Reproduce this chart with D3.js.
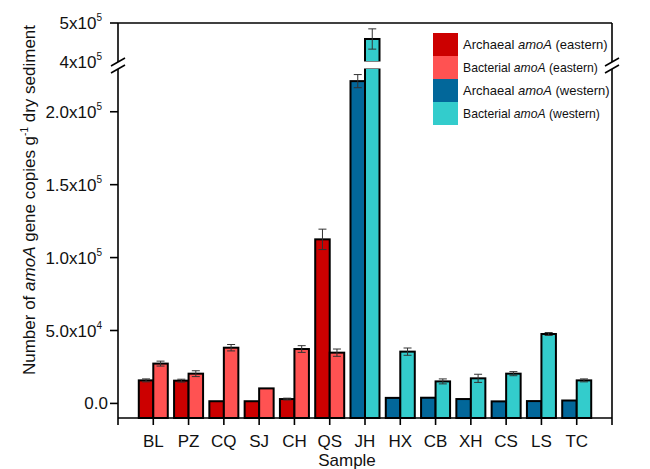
<!DOCTYPE html>
<html>
<head>
<meta charset="utf-8">
<script src="https://cdn.jsdelivr.net/npm/d3@7"></script>
<style>
  body { margin: 0; background: #fff; }
  text { font-family: Arial, "Liberation Sans", sans-serif; }
</style>
</head>
<body>
<script>
// data
var samples = ["BL", "PZ", "CQ", "SJ", "CH", "QS", "JH", "HX", "CB", "XH", "CS", "LS", "TC"];
var region = ["eastern", "eastern", "eastern", "eastern", "eastern", "eastern",
              "western", "western", "western", "western", "western", "western", "western"];
var archaeal = [15800, 15600, 1500, 1500, 3000, 112500, 221000, 3800, 3900, 3000, 1400, 1600, 2000];
var archaealErr = [1000, 1000, 0, 0, 600, 7000, 4500, 0, 0, 0, 0, 0, 0];
var bacterial = [27300, 20400, 38200, 10300, 37300, 34800, 459000, 35500, 15100, 17200, 20400, 47600, 15800];
var bacterialErr = [1700, 2000, 2200, 0, 2300, 2500, 26000, 2500, 1700, 2800, 1400, 1000, 1000];
var lowTicks = [0, 50000, 100000, 150000, 200000];
var lowTickLabels = [["0.0", ""], ["5.0x10", "4"], ["1.0x10", "5"], ["1.5x10", "5"], ["2.0x10", "5"]];
var highTicks = [400000, 500000];
var highTickLabels = [["4x10", "5"], ["5x10", "5"]];
var legendItems = ["Archaeal|amoA|(eastern)", "Bacterial|amoA|(eastern)",
                   "Archaeal|amoA|(western)", "Bacterial|amoA|(western)"];

var colors = {
  archaeal_eastern: "#cc0000",
  bacterial_eastern: "#ff5252",
  archaeal_western: "#02679a",
  bacterial_western: "#33cccc"
};

var svg = d3.select("body")
    .append("svg")
    .attr("width", 650)
    .attr("height", 469)
    .style("display", "block");

var pLeft = 118, pRight = 612, pTop = 23, pBottom = 418;

var x = d3.scaleLinear().domain([0, samples.length + 1]).range([pLeft, pRight]);
// broken y axis: lower and upper segments
var yLow = d3.scaleLinear().domain([-10000, 230000]).range([pBottom, 68]);
var yHigh = d3.scaleLinear().domain([400000, 500000]).range([62, pTop]);
var barW = 14.5;

function yOf(v) { return v > 230000 ? yHigh(v) : yLow(v); }

// bars
var g = svg.append("g");
samples.forEach(function(s, i) {
  var cx = x(i + 1);
  var reg = region[i];
  [["archaeal", archaeal[i], archaealErr[i], cx - barW],
   ["bacterial", bacterial[i], bacterialErr[i], cx]].forEach(function(b) {
    var fill = colors[b[0] + "_" + reg];
    var v = b[1];
    if (v <= 230000) {
      g.append("rect")
        .attr("x", b[3]).attr("width", barW)
        .attr("y", yLow(v)).attr("height", yLow(-10000) - yLow(v))
        .attr("fill", fill).attr("stroke", "#000").attr("stroke-width", 2);
    } else {
      g.append("rect")
        .attr("x", b[3]).attr("width", barW)
        .attr("y", yLow(230000)).attr("height", yLow(-10000) - yLow(230000))
        .attr("fill", fill).attr("stroke", "#000").attr("stroke-width", 2);
      g.append("rect")
        .attr("x", b[3]).attr("width", barW)
        .attr("y", yHigh(v)).attr("height", yHigh(400000) - yHigh(v))
        .attr("fill", fill).attr("stroke", "#000").attr("stroke-width", 2);
      // white gap of the break
      g.append("rect")
        .attr("x", b[3] - 1.5).attr("width", barW + 3)
        .attr("y", yHigh(400000) - 0.5).attr("height", yLow(230000) - yHigh(400000) + 1)
        .attr("fill", "#fff");
    }
    if (b[2] > 0) {
      var ex = b[3] + barW / 2;
      var y1 = yOf(v + b[2]), y2 = yOf(v - b[2]);
      g.append("line").attr("x1", ex).attr("x2", ex).attr("y1", y1).attr("y2", y2)
        .attr("stroke", "#333").attr("stroke-width", 1);
      [y1, y2].forEach(function(yy) {
        g.append("line").attr("x1", ex - 4).attr("x2", ex + 4).attr("y1", yy).attr("y2", yy)
          .attr("stroke", "#333").attr("stroke-width", 1);
      });
    }
  });
});

// frame
var frame = svg.append("g").attr("stroke", "#000").attr("stroke-width", 1.6).attr("fill", "none");
frame.append("line").attr("x1", pLeft).attr("x2", pRight).attr("y1", pTop).attr("y2", pTop);
frame.append("line").attr("x1", pLeft).attr("x2", pRight).attr("y1", pBottom).attr("y2", pBottom);
[pLeft, pRight].forEach(function(xx) {
  frame.append("line").attr("x1", xx).attr("x2", xx).attr("y1", pTop).attr("y2", 62);
  frame.append("line").attr("x1", xx).attr("x2", xx).attr("y1", 69).attr("y2", pBottom);
  // break marks
  frame.append("line").attr("x1", xx - 7).attr("y1", 66).attr("x2", xx + 7).attr("y2", 58);
  frame.append("line").attr("x1", xx - 7).attr("y1", 73).attr("x2", xx + 7).attr("y2", 65);
});

// x ticks
var xt = d3.range(0, samples.length + 2);
svg.append("g").selectAll("line").data(xt).join("line")
  .attr("x1", function(d) { return x(d); }).attr("x2", function(d) { return x(d); })
  .attr("y1", pBottom).attr("y2", pBottom + 7)
  .attr("stroke", "#000").attr("stroke-width", 1.6);

svg.append("g").selectAll("text").data(samples).join("text")
  .attr("x", function(d, i) { return x(i + 1); })
  .attr("y", 447)
  .attr("text-anchor", "middle")
  .attr("font-size", "17px")
  .attr("fill", "#111")
  .text(function(d) { return d; });

svg.append("text")
  .attr("x", 347).attr("y", 466)
  .attr("text-anchor", "middle")
  .attr("font-size", "17px")
  .attr("fill", "#111")
  .text("Sample");

// y ticks
function yTicks(vals, labels, scale) {
  vals.forEach(function(v, i) {
    var yy = scale(v);
    if (v !== 400000) {
      svg.append("line").attr("x1", pLeft - 8).attr("x2", pLeft).attr("y1", yy).attr("y2", yy)
        .attr("stroke", "#000").attr("stroke-width", 1.6);
    }
    var t = svg.append("text")
      .attr("x", pLeft - (labels[i][1] ? 16 : 10)).attr("y", yy + 6)
      .attr("text-anchor", "end")
      .attr("font-size", "17px")
      .attr("fill", "#111");
    t.append("tspan").text(labels[i][0]);
    if (labels[i][1]) {
      t.append("tspan").attr("dy", -8).attr("font-size", "10px").text(labels[i][1]);
    }
  });
}
yTicks(lowTicks, lowTickLabels, yLow);
yTicks(highTicks, highTickLabels, yHigh);

// y title
var yt = svg.append("text")
  .attr("transform", "translate(35,200) rotate(-90)")
  .attr("text-anchor", "middle")
  .attr("font-size", "17px")
  .attr("fill", "#111");
yt.append("tspan").text("Number of ");
yt.append("tspan").attr("font-style", "italic").text("amoA");
yt.append("tspan").text(" gene copies g");
yt.append("tspan").attr("dy", -7).attr("font-size", "10px").text("-1");
yt.append("tspan").attr("dy", 7).text(" dry sediment");

// legend
var legKeys = ["archaeal_eastern", "bacterial_eastern", "archaeal_western", "bacterial_western"];
legendItems.forEach(function(s, i) {
  var yy = 33 + i * 23;
  svg.append("rect").attr("x", 433).attr("y", yy).attr("width", 25).attr("height", 23)
    .attr("fill", colors[legKeys[i]]);
  var parts = s.split("|");
  var fs = i % 2 === 0 ? "13px" : "12.2px";
  var t = svg.append("text").attr("x", 463).attr("y", yy + 16)
    .attr("font-size", fs).attr("fill", "#111");
  t.append("tspan").text(parts[0] + " ");
  t.append("tspan").attr("font-style", "italic").text(parts[1]);
  t.append("tspan").text(" " + parts[2]);
});
</script>
</body>
</html>
